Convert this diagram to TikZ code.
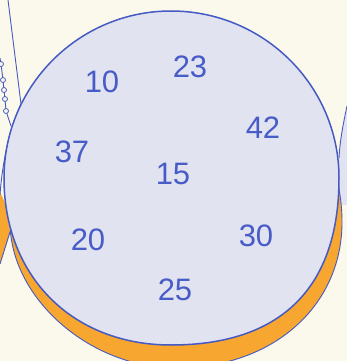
\documentclass[tikz,border=0pt]{standalone}
\usepackage{fontspec}
\setsansfont{Liberation Sans}
\begin{document}
\begin{tikzpicture}[x=1pt, y=-1pt, rim/.style={line width=1.5pt, cpBlue}, thin rim/.style={line width=0.9pt, cpBlue}, num/.style={font=\sffamily\fontsize{31}{31}\selectfont, text=cpText, inner sep=0pt}, bead/.style={circle, draw=cpBlue, line width=0.8pt, fill=cpPaper, inner sep=0pt, minimum size=5pt}]
\definecolor{cpPaper}{RGB}{251,248,236}
\definecolor{cpDisc}{RGB}{226,227,240}
\definecolor{cpOrange}{RGB}{247,166,48}
\definecolor{cpBlue}{RGB}{70,90,195}
\definecolor{cpText}{RGB}{72,92,200}
\fill[cpPaper] (0,0) rectangle (347,361);
\useasboundingbox (0,0) rectangle (347,361);
\fill[cpOrange] (0,192) -- (6,205) -- (10,232) -- (0,264) -- cycle;
\draw[thin rim] (10,232) -- (0,264);
\draw[thin rim] (21,104) .. controls (9,130) and (2,165) .. (0,195);
\draw[thin rim] (8,0) -- (21,104);
\draw[thin rim] (0,58) -- (1,64) -- (3,80) -- (4,90) -- (5,99) -- (6,111) -- (11,126);
\foreach \bx/\by [count=\i] in {1/64, 3/80, 4/90, 5/99, 6/111}
  \node[bead] (bead\i) at (\bx,\by) {};
\fill[cpDisc] (347,106) .. controls (343,125) and (340,140) .. (339,158) -- (339,205) -- (347,205) -- cycle;
\draw[thin rim] (347,106) .. controls (343,125) and (340,140) .. (339,158);
\filldraw[thin rim, fill=cpOrange] (176,50) .. controls (267.7,50) and (342,127) .. (342,222) .. controls (342,306.7) and (272.3,368) .. (176,368) .. controls (89.7,368) and (10,297.9) .. (10,222) .. controls (10,127) and (84.3,50) .. cycle;
\filldraw[rim, fill=cpDisc] (171,11) .. controls (263.8,11) and (339,85.8) .. (339,178) .. controls (339,287.6) and (281.2,345) .. (171,345) .. controls (72.5,345) and (4,276.5) .. (4,178) .. controls (4,85.8) and (78.8,11) .. cycle;
\node[num] (n10) at (102,82) {10};
\node[num] (n23) at (190,67) {23};
\node[num] (n42) at (263,128) {42};
\node[num] (n37) at (72,152) {37};
\node[num] (n15) at (173,174) {15};
\node[num] (n20) at (88,240) {20};
\node[num] (n30) at (256,236) {30};
\node[num] (n25) at (175,290) {25};
\end{tikzpicture}
\end{document}
